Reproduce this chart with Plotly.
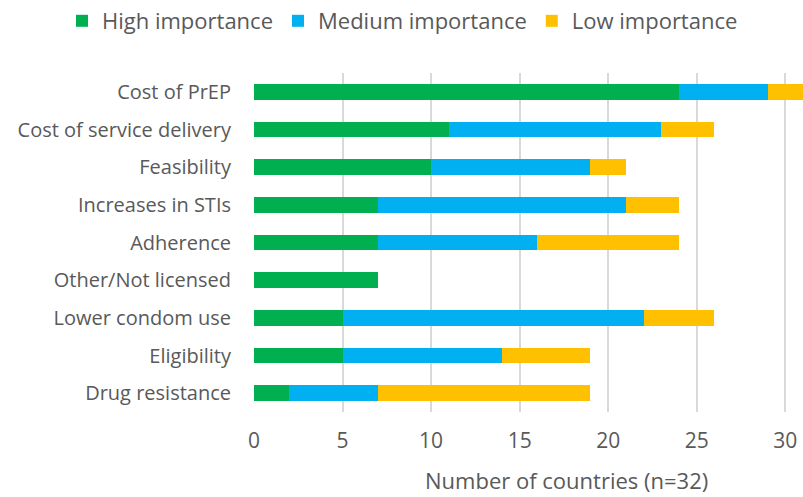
import plotly.graph_objects as go

# Barriers to PrEP roll-out, ranked by importance (number of countries)
categories = [
    "Cost of PrEP",
    "Cost of service delivery",
    "Feasibility",
    "Increases in STIs",
    "Adherence",
    "Other/Not licensed",
    "Lower condom use",
    "Eligibility",
    "Drug resistance",
]
high = [24, 11, 10, 7, 7, 7, 5, 5, 2]
medium = [5, 12, 9, 14, 9, 0, 17, 9, 5]
low = [3, 3, 2, 3, 8, 0, 4, 5, 12]
x_ticks = [0, 5, 10, 15, 20, 25, 30]

series = [
    ("High importance", high, "#00B050"),
    ("Medium importance", medium, "#00B0F0"),
    ("Low importance", low, "#FFC000"),
]

font_family = "Open Sans, Noto Sans, DejaVu Sans, sans-serif"
text_color = "#595959"

W, H = 803, 497
M_L, M_R, M_T, M_B = 254, 0, 73, 85
PLOT_W = W - M_L - M_R
PLOT_H = H - M_T - M_B

fig = go.Figure()
for name, values, color in series:
    fig.add_trace(go.Bar(
        y=categories,
        x=values,
        name=name,
        orientation="h",
        marker=dict(color=color, line=dict(width=0)),
    ))

fig.update_layout(
    barmode="stack",
    bargap=0.59,
    width=W,
    height=H,
    margin=dict(l=M_L, r=M_R, t=M_T, b=M_B, autoexpand=False),
    plot_bgcolor="white",
    paper_bgcolor="white",
    font=dict(family=font_family, color=text_color),
    legend=dict(
        orientation="h",
        x=(62 - M_L) / PLOT_W,
        xanchor="left",
        y=1 + (M_T - 21) / PLOT_H,
        yanchor="middle",
        font=dict(size=22, color=text_color),
        traceorder="normal",
        itemwidth=30,
        tracegroupgap=0,
    ),
    xaxis=dict(
        range=[0, 31],
        tickvals=x_ticks,
        showgrid=True,
        gridcolor="#D9D9D9",
        gridwidth=1.5,
        zeroline=False,
        showline=False,
        tickfont=dict(size=21, color=text_color),
        ticklabelstandoff=14,
    ),
    yaxis=dict(
        categoryorder="array",
        categoryarray=categories[::-1],
        showgrid=False,
        zeroline=False,
        showline=False,
        tickfont=dict(size=20, color=text_color),
        ticklabelstandoff=22,
    ),
)

# axis title, centred under the data area in pixel terms
fig.add_annotation(
    text="Number of countries (n=32)",
    xref="paper",
    yref="paper",
    x=(566 - M_L) / PLOT_W,
    y=-(480 - (H - M_B)) / PLOT_H,
    showarrow=False,
    font=dict(size=22, color=text_color),
    xanchor="center",
    yanchor="middle",
)

fig.write_html("out.html")
